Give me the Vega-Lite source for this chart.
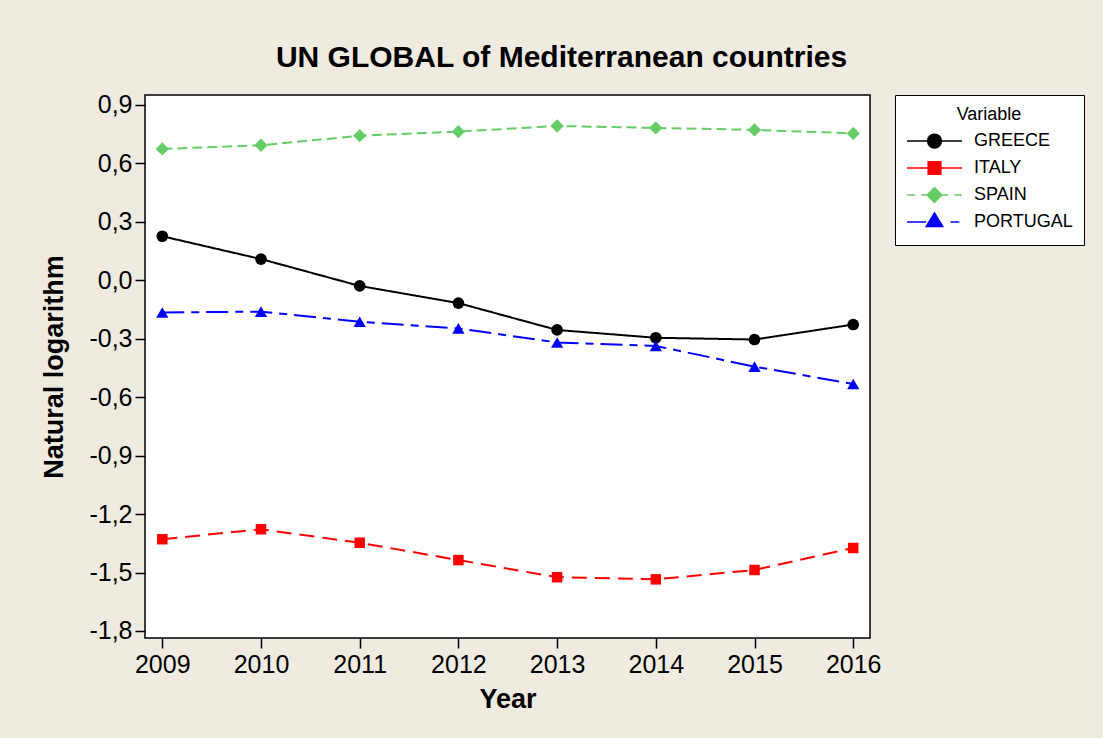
{
  "$schema": "https://vega.github.io/schema/vega-lite/v6.json",
  "autosize": {"type": "none"},
  "width": 725,
  "height": 543,
  "padding": {"left": 145, "top": 95, "right": 233, "bottom": 100},
  "background": "#EFEBE0",
  "title": {
    "text": "UN GLOBAL of Mediterranean countries",
    "anchor": "middle",
    "frame": "group",
    "dx": 54,
    "dy": 31,
    "offset": 27,
    "baseline": "alphabetic",
    "font": "Liberation Sans",
    "fontSize": 30,
    "fontWeight": "bold",
    "color": "black"
  },
  "config": {
    "view": {"fill": "white", "stroke": "black", "strokeWidth": 1.5},
    "axis": {
      "labelFont": "Liberation Sans",
      "labelFontSize": 25,
      "labelColor": "black",
      "titleFont": "Liberation Sans",
      "titleFontSize": 27,
      "titleFontWeight": "bold",
      "titleColor": "black",
      "tickColor": "black",
      "tickWidth": 1.5,
      "tickSize": 10,
      "domain": false,
      "grid": false
    },
    "legend": {
      "padding": 11,
      "strokeColor": "black",
      "fillColor": "white",
      "symbolSize": 3025,
      "symbolStrokeWidth": 1.5,
      "symbolOpacity": 1,
      "clipHeight": 24,
      "labelOffset": 11,
      "labelFont": "Liberation Sans",
      "labelFontSize": 18,
      "labelColor": "black",
      "titleFont": "Liberation Sans",
      "titleFontSize": 18,
      "titleFontWeight": "normal",
      "titleColor": "black",
      "titleAnchor": "middle",
      "titlePadding": 5,
      "rowPadding": 3
    }
  },
  "data": {
    "values": [
      {"Year": 2009, "Variable": "GREECE", "value": 0.226},
      {"Year": 2010, "Variable": "GREECE", "value": 0.109},
      {"Year": 2011, "Variable": "GREECE", "value": -0.029},
      {"Year": 2012, "Variable": "GREECE", "value": -0.117},
      {"Year": 2013, "Variable": "GREECE", "value": -0.255},
      {"Year": 2014, "Variable": "GREECE", "value": -0.295},
      {"Year": 2015, "Variable": "GREECE", "value": -0.304},
      {"Year": 2016, "Variable": "GREECE", "value": -0.227},
      {"Year": 2009, "Variable": "ITALY", "value": -1.329},
      {"Year": 2010, "Variable": "ITALY", "value": -1.278},
      {"Year": 2011, "Variable": "ITALY", "value": -1.347},
      {"Year": 2012, "Variable": "ITALY", "value": -1.436},
      {"Year": 2013, "Variable": "ITALY", "value": -1.524},
      {"Year": 2014, "Variable": "ITALY", "value": -1.535},
      {"Year": 2015, "Variable": "ITALY", "value": -1.487},
      {"Year": 2016, "Variable": "ITALY", "value": -1.374},
      {"Year": 2009, "Variable": "SPAIN", "value": 0.674},
      {"Year": 2010, "Variable": "SPAIN", "value": 0.693},
      {"Year": 2011, "Variable": "SPAIN", "value": 0.742},
      {"Year": 2012, "Variable": "SPAIN", "value": 0.763},
      {"Year": 2013, "Variable": "SPAIN", "value": 0.792},
      {"Year": 2014, "Variable": "SPAIN", "value": 0.782},
      {"Year": 2015, "Variable": "SPAIN", "value": 0.772},
      {"Year": 2016, "Variable": "SPAIN", "value": 0.754},
      {"Year": 2009, "Variable": "PORTUGAL", "value": -0.165},
      {"Year": 2010, "Variable": "PORTUGAL", "value": -0.161},
      {"Year": 2011, "Variable": "PORTUGAL", "value": -0.213},
      {"Year": 2012, "Variable": "PORTUGAL", "value": -0.247},
      {"Year": 2013, "Variable": "PORTUGAL", "value": -0.319},
      {"Year": 2014, "Variable": "PORTUGAL", "value": -0.337},
      {"Year": 2015, "Variable": "PORTUGAL", "value": -0.443},
      {"Year": 2016, "Variable": "PORTUGAL", "value": -0.532}
    ]
  },
  "encoding": {
    "x": {
      "field": "Year",
      "type": "quantitative",
      "scale": {"domain": [2008.825, 2016.17], "nice": false, "zero": false},
      "axis": {"title": "Year", "values": [2009, 2010, 2011, 2012, 2013, 2014, 2015, 2016], "format": "d", "labelPadding": 4, "titlePadding": 9, "labelFlush": false}
    },
    "y": {
      "field": "value",
      "type": "quantitative",
      "scale": {"domain": [-1.836, 0.951], "nice": false, "zero": false},
      "axis": {
        "title": "Natural logarithm",
        "values": [-1.8, -1.5, -1.2, -0.9, -0.6, -0.3, 0, 0.3, 0.6, 0.9],
        "labelExpr": "replace(replace(format(datum.value, '.1f'), '.', ','), '\u2212', '-')",
        "labelPadding": 3,
        "titlePadding": 20
      }
    }
  },
  "layer": [
    {
      "mark": {"type": "line", "strokeWidth": 2},
      "encoding": {
        "color": {
          "field": "Variable",
          "type": "nominal",
          "scale": {"domain": ["PORTUGAL", "SPAIN", "ITALY", "GREECE"], "range": ["#0000FF", "#66CC66", "#FF0000", "#000000"]},
          "legend": null
        },
        "strokeDash": {
          "field": "Variable",
          "type": "nominal",
          "scale": {"domain": ["PORTUGAL", "SPAIN", "ITALY", "GREECE"], "range": [[22, 7, 8, 7], [10, 5], [15, 8], [1, 0]]},
          "legend": null
        }
      }
    },
    {
      "transform": [{"filter": "datum.Variable === 'GREECE'"}],
      "mark": {"type": "point", "shape": "circle", "filled": true, "opacity": 1, "size": 137, "color": "#000000"}
    },
    {
      "transform": [{"filter": "datum.Variable === 'ITALY'"}],
      "mark": {"type": "point", "shape": "square", "filled": true, "opacity": 1, "size": 110, "color": "#FF0000"}
    },
    {
      "transform": [{"filter": "datum.Variable === 'SPAIN'"}],
      "mark": {"type": "point", "shape": "diamond", "filled": true, "opacity": 1, "size": 177, "color": "#66CC66"}
    },
    {
      "transform": [{"filter": "datum.Variable === 'PORTUGAL'"}],
      "mark": {"type": "point", "shape": "triangle-up", "filled": true, "opacity": 1, "size": 150, "color": "#0000FF"}
    },
    {
      "transform": [{"filter": "datum.Year < 0"}],
      "mark": {"type": "point", "filled": true, "strokeWidth": 1.5},
      "encoding": {
        "fill": {
          "field": "Variable",
          "type": "nominal",
          "title": "Variable",
          "scale": {"domain": ["GREECE", "ITALY", "SPAIN", "PORTUGAL"], "range": ["#000000", "#FF0000", "#66CC66", "#0000FF"]},
          "legend": {"orient": "none", "legendX": 750, "legendY": 0}
        },
        "stroke": {
          "field": "Variable",
          "type": "nominal",
          "title": "Variable",
          "scale": {"domain": ["GREECE", "ITALY", "SPAIN", "PORTUGAL"], "range": ["#000000", "#FF0000", "#66CC66", "#0000FF"]},
          "legend": {"orient": "none", "legendX": 750, "legendY": 0}
        },
        "shape": {
          "field": "Variable",
          "type": "nominal",
          "title": "Variable",
          "scale": {
            "domain": ["GREECE", "ITALY", "SPAIN", "PORTUGAL"],
            "range": [
              "M-1,0H1M-0.25,0A0.25,0.25,0,1,1,0.25,0A0.25,0.25,0,1,1,-0.25,0Z",
              "M-1,0H1M-0.23,-0.23H0.23V0.23H-0.23Z",
              "M-1,0H-0.7M-0.48,0H-0.27M0.27,0H0.5M0.72,0H1M-0.27,0L0,-0.27L0.27,0L0,0.27Z",
              "M-1,0H-0.3M0.58,0H0.9M-0.3,0.16L0,-0.33L0.3,0.16Z"
            ]
          },
          "legend": {"orient": "none", "legendX": 750, "legendY": 0}
        }
      }
    }
  ]
}
